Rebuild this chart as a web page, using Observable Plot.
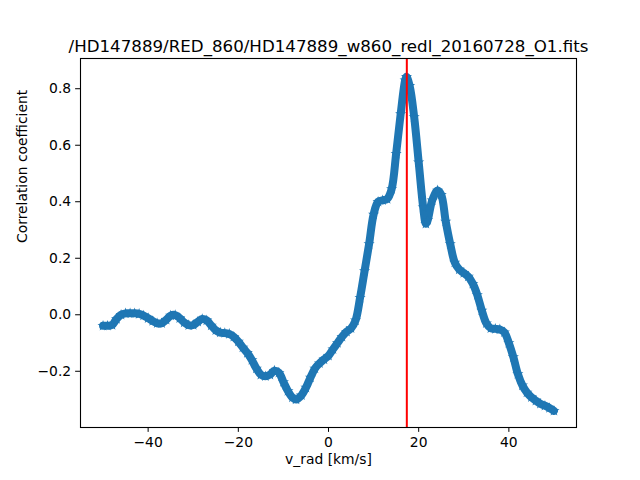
<!DOCTYPE html>
<html>
<head>
<meta charset="utf-8">
<script src="https://cdn.jsdelivr.net/npm/d3@7"></script>
<script src="https://cdn.jsdelivr.net/npm/@observablehq/plot@0.6"></script>
<style>
  html, body { margin: 0; padding: 0; background: #fff; }
  #chart { width: 640px; height: 480px; }
</style>
</head>
<body>
<div id="chart"></div>
<script>
const titleText = "/HD147889/RED_860/HD147889_w860_redl_20160728_O1.fits";
const xLabel = "v_rad [km/s]";
const yLabel = "Correlation coefficient";
const xTicks = [-40, -20, 0, 20, 40];
const yTicks = [-0.2, 0.0, 0.2, 0.4, 0.6, 0.8];
const peakVelocity = 17.37;

const vRad = [
  -50, -49, -48, -47, -46, -45, -44, -43, -42, -41, -40, -39, -38, -37, -36, -35, -34, -33, -32, -31,
  -30, -29, -28, -27, -26, -25, -24, -23, -22, -21, -20, -19, -18, -17, -16, -15, -14, -13, -12, -11,
  -10, -9, -8, -7.2, -6, -5, -4, -3, -2, -1, 0, 1, 2, 3, 4, 5, 6, 7, 8, 9,
  10, 11, 12, 13, 14, 15, 16, 17, 17.3, 18, 19, 20, 21, 21.6, 22, 23, 24.2, 25, 26, 27,
  28, 29, 30, 31, 32, 33, 34, 35, 36, 37, 38, 39, 40, 41, 42, 43, 44, 45, 46, 47,
  48, 49, 50
];
const corr = [
  -0.039, -0.039, -0.036, -0.015, 0.000, 0.005, 0.005, 0.005, 0.003, -0.003, -0.012, -0.022, -0.030, -0.030, -0.018, -0.003, -0.001, -0.012, -0.027, -0.037,
  -0.036, -0.025, -0.015, -0.020, -0.038, -0.055, -0.063, -0.065, -0.068, -0.078, -0.095, -0.116, -0.135, -0.160, -0.190, -0.212, -0.218, -0.212, -0.198, -0.205,
  -0.238, -0.270, -0.293, -0.300, -0.285, -0.258, -0.222, -0.190, -0.172, -0.158, -0.145, -0.122, -0.100, -0.078, -0.060, -0.048, -0.020, 0.060, 0.155, 0.250,
  0.355, 0.400, 0.405, 0.410, 0.445, 0.570, 0.710, 0.830, 0.842, 0.810, 0.700, 0.540, 0.380, 0.322, 0.335, 0.405, 0.440, 0.425, 0.330, 0.250,
  0.185, 0.160, 0.148, 0.135, 0.110, 0.070, 0.015, -0.030, -0.048, -0.050, -0.052, -0.062, -0.100, -0.150, -0.210, -0.250, -0.275, -0.292, -0.304, -0.315,
  -0.322, -0.330, -0.340
];

const data = vRad.map((v, i) => ({v, c: corr[i]}));
const blue = "#1f77b4";

const chart = Plot.plot({
  width: 640,
  height: 480,
  marginLeft: 80,
  marginRight: 64,
  marginTop: 58,
  marginBottom: 53,
  style: {fontFamily: "DejaVu Sans", fontSize: "13.89px", color: "#000", background: "#fff"},
  x: {domain: [-55, 55], ticks: xTicks, tickFormat: d3.format("d"), label: null, tickSize: 4.86, tickPadding: 4.5},
  y: {domain: [-0.399, 0.907], ticks: yTicks, tickFormat: d3.format(".1f"), label: null, tickSize: 4.86, tickPadding: 4.5},
  marks: [
    Plot.line(data, {x: "v", y: "c", stroke: blue, strokeWidth: 8, curve: "catmull-rom", strokeLinejoin: "round", strokeLinecap: "round"}),
    Plot.dot(data, {x: "v", y: "c", symbol: "star", r: 3.5, fill: blue, stroke: "none"}),
    Plot.ruleX([peakVelocity], {stroke: "red", strokeWidth: 2}),
    Plot.frame({stroke: "#000", strokeWidth: 1.1}),
    Plot.text([titleText], {frameAnchor: "top", dy: -18, fontSize: 16.67, fill: "#000"}),
    Plot.text([xLabel], {frameAnchor: "bottom", dy: 36, fontSize: 13.89, fill: "#000"}),
    Plot.text([yLabel], {frameAnchor: "left", dx: -58, rotate: -90, fontSize: 13.89, fill: "#000"})
  ]
});
document.getElementById("chart").appendChild(chart);
</script>
</body>
</html>
